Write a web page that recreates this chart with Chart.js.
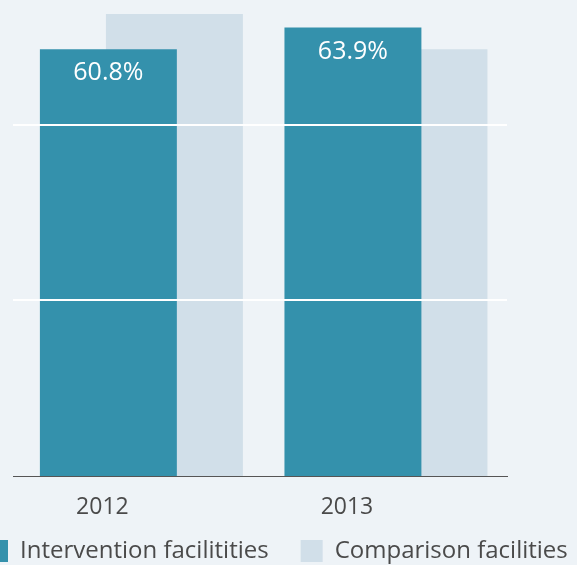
<!DOCTYPE html>
<html>
<head>
<meta charset="utf-8">
<script src="https://cdn.jsdelivr.net/npm/chart.js@4.4.1/dist/chart.umd.min.js"></script>
<style>
  html, body { margin: 0; padding: 0; background: #eef3f7; overflow: hidden; width: 577px; height: 565px; }
  #wrap { position: absolute; left: -46px; top: 0; width: 680px; height: 573px; }
</style>
</head>
<body>
<div id="wrap"><canvas id="coverageChart"></canvas></div>
<script>
const years = [2012, 2013];
const intervention = [60.8, 63.9];
const comparison = [65.8, 60.8];
const gridValues = [25, 50];
const seriesNames = ['Intervention facilitities', 'Comparison facilities'];

const teal = '#3491ac';
const pale = '#d1dfe9';
const textGrey = '#4a4a4a';

Chart.defaults.font.family = "'Open Sans', sans-serif";

// white % labels inside the top of the intervention bars
const barLabels = {
  id: 'barLabels',
  afterDatasetsDraw(chart) {
    const c = chart.ctx;
    const meta = chart.getDatasetMeta(0);
    c.save();
    c.font = "25px 'Open Sans'";
    c.fillStyle = '#ffffff';
    c.textAlign = 'center';
    c.textBaseline = 'middle';
    meta.data.forEach((bar, i) => {
      c.fillText(intervention[i] + '%', bar.x, bar.y + 24);
    });
    c.restore();
  }
};

const toPoints = vals => vals.map((v, i) => ({ x: years[i], y: v }));
const yearTicks = axis => { axis.ticks = years.map(v => ({ value: v })); };

const ctx = document.getElementById('coverageChart').getContext('2d');
new Chart(ctx, {
  type: 'bar',
  data: {
    datasets: [
      {
        label: seriesNames[0],
        data: toPoints(intervention),
        backgroundColor: teal,
        xAxisID: 'x',
        yAxisID: 'y',
        grouped: false,
        barPercentage: 0.56,
        categoryPercentage: 1
      },
      {
        label: seriesNames[1],
        data: toPoints(comparison),
        backgroundColor: pale,
        xAxisID: 'x2',
        yAxisID: 'y',
        grouped: false,
        barPercentage: 0.56,
        categoryPercentage: 1
      }
    ]
  },
  options: {
    responsive: true,
    maintainAspectRatio: false,
    animation: false,
    events: [],
    layout: { padding: 0 },
    plugins: {
      tooltip: { enabled: false },
      legend: {
        position: 'bottom',
        align: 'start',
        labels: {
          boxWidth: 22,
          boxHeight: 22,
          padding: 32,
          color: textGrey,
          font: { size: 24 }
        }
      }
    },
    scales: {
      x: {
        type: 'linear',
        position: 'bottom',
        offset: false,
        min: 2011.61,
        max: 2013.63,
        afterBuildTicks: yearTicks,
        // labels are mirrored (unclipped) and pushed below the baseline
        grid: { display: false, offset: false, drawTicks: true, tickLength: 121 },
        border: { display: true, color: '#555555', width: 1, z: 1 },
        ticks: {
          color: textGrey,
          font: { size: 23 },
          mirror: true,
          padding: -45,
          labelOffset: -6,
          maxRotation: 0,
          autoSkip: false,
          callback: v => String(v)
        }
      },
      x2: {
        type: 'linear',
        display: false,
        offset: false,
        min: 2011.34,
        max: 2013.36,
        afterBuildTicks: yearTicks
      },
      y: {
        type: 'linear',
        position: 'left',
        min: 0,
        max: 67.8,
        afterBuildTicks: axis => { axis.ticks = gridValues.map(v => ({ value: v })); },
        afterFit: axis => { axis.width = 59; },
        ticks: { display: false },
        grid: { color: '#ffffff', lineWidth: 2, z: 1, drawTicks: false },
        border: { display: false }
      },
      yr: {
        type: 'linear',
        position: 'right',
        afterFit: axis => { axis.width = 127; },
        ticks: { display: false },
        grid: { display: false, drawTicks: false },
        border: { display: false }
      }
    }
  },
  plugins: [barLabels]
});
</script>
</body>
</html>
